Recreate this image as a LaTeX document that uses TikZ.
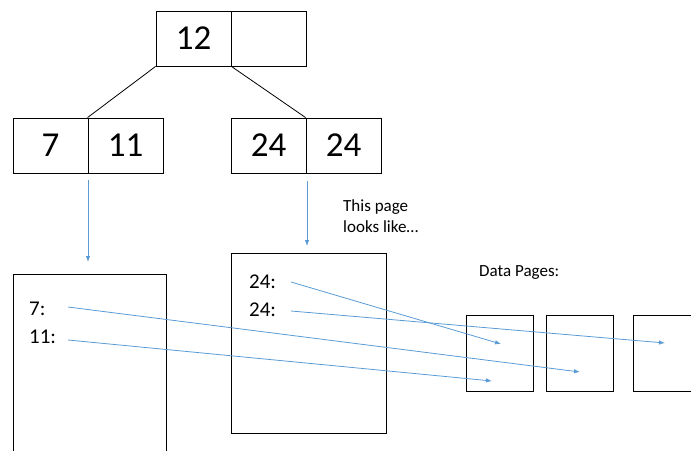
\documentclass[tikz,border=0pt]{standalone}
\usepackage{fontspec}
\setmainfont{Carlito}
\usetikzlibrary{arrows.meta}
\definecolor{ptrblue}{RGB}{91,155,213}
\begin{document}
\begin{tikzpicture}[x=1pt,y=-1pt,
 cell/.style={draw=black, line width=0.9pt, minimum width=75pt, minimum height=55pt, inner sep=0pt, font=\fontsize{35}{40}\selectfont},
 pagebox/.style={draw=black, line width=0.9pt, inner sep=0pt},
 lbl/.style={anchor=base west, inner sep=0pt, font=\fontsize{21}{24}\selectfont},
 note/.style={anchor=north west, inner sep=0pt, font=\fontsize{17}{21}\selectfont, align=left},
 tree/.style={draw=black, line width=0.8pt},
 ptr/.style={draw=ptrblue, line width=0.8pt, -{Latex[length=6pt,width=4.5pt]}}
]
\useasboundingbox (0,0) rectangle (691,450);
\clip (0,0) rectangle (691,450);
% root
\node[cell] (r1) at (193.5,38.5) {12};
\node[cell] (r2) at (268.5,38.5) {};
% left child
\node[cell] (c1) at (50.5,145.5) {7};
\node[cell] (c2) at (125.5,145.5) {11};
% right child
\node[cell] (d1) at (268.5,145.5) {24};
\node[cell] (d2) at (343.5,145.5) {24};
% tree edges
\draw[tree] (r1.south west) -- (c2.north west);
\draw[tree] (r1.south east) -- (d2.north west);
% index pages
\node[pagebox, minimum width=153pt, minimum height=200pt] (lp) at (89.5,374) {};
\node[pagebox, minimum width=155pt, minimum height=180pt] (rp) at (308.5,343) {};
% data pages
\node[pagebox, minimum width=67pt, minimum height=76pt] (dp1) at (499.5,353) {};
\node[pagebox, minimum width=67pt, minimum height=76pt] (dp2) at (579.5,353) {};
\node[pagebox, minimum width=87pt, minimum height=76pt] (dp3) at (676.5,353) {};
% labels
\node[lbl] (l7) at (29,315) {7:};
\node[lbl] (l11) at (29,343) {11:};
\node[lbl] (m1) at (249,288) {24:};
\node[lbl] (m2) at (249,316) {24:};
\node[note] (nt) at (343,199) {This page\\looks like…};
\node[note] (dpl) at (479,265) {Data Pages:};
% pointer coordinates
\coordinate (a1s) at (88,180);
\coordinate (a1e) at (88,262);
\coordinate (a2s) at (307,181);
\coordinate (a2e) at (307,246);
\coordinate (s7) at (68,307);
\coordinate (e7) at (580,372);
\coordinate (s11) at (68,340);
\coordinate (e11) at (492,381);
\coordinate (s24a) at (291,282);
\coordinate (e24a) at (501,344);
\coordinate (s24b) at (291,311);
\coordinate (e24b) at (665,343);
% pointers
\draw[ptr] (a1s) -- (a1e);
\draw[ptr] (a2s) -- (a2e);
\draw[ptr] (s7) -- (e7);
\draw[ptr] (s11) -- (e11);
\draw[ptr] (s24a) -- (e24a);
\draw[ptr] (s24b) -- (e24b);
\end{tikzpicture}
\end{document}
